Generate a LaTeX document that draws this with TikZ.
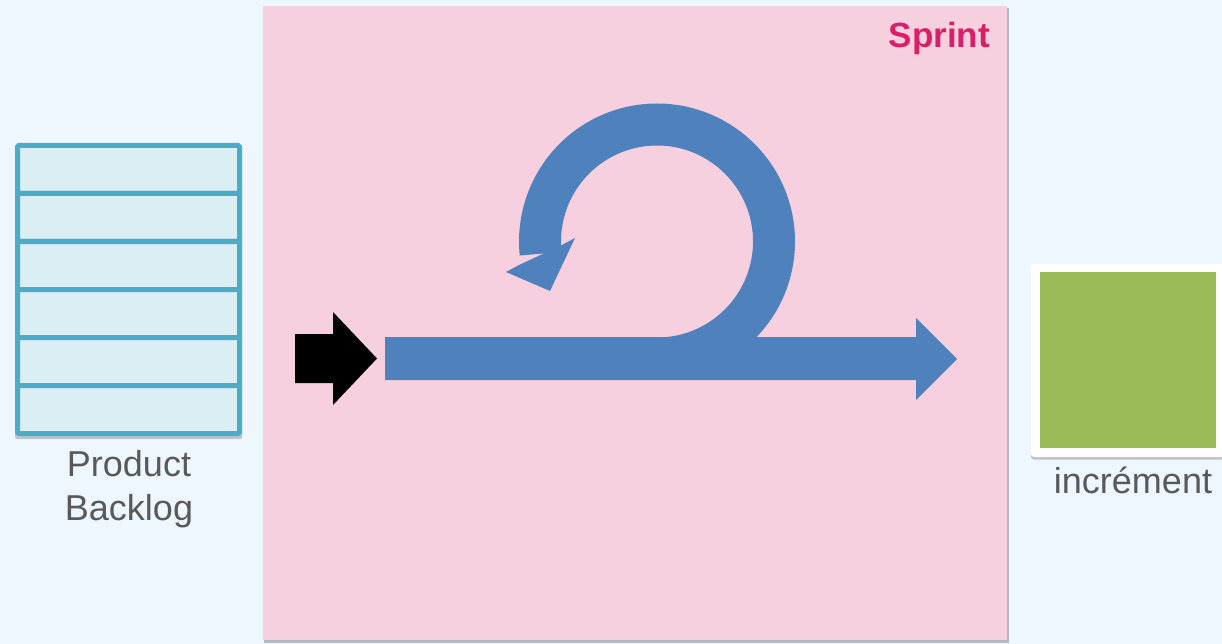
\documentclass[tikz,border=0pt]{standalone}
\usepackage{fontspec}
\setmainfont{Liberation Sans}
\usetikzlibrary{shadows}
\definecolor{bgc}{HTML}{EFF7FE}
\definecolor{pinkc}{HTML}{F7D0DF}
\definecolor{bluec}{HTML}{4F81BD}
\definecolor{sprintc}{HTML}{D81F68}
\definecolor{grayc}{HTML}{595959}
\definecolor{blstroke}{HTML}{4BACC6}
\definecolor{blfill}{HTML}{DBEEF3}
\definecolor{greenc}{HTML}{9BBB59}
\definecolor{shadowc}{HTML}{9A9FA6}
\tikzset{
  row/.style={draw=blstroke, fill=blfill, line width=5pt, rounded corners=1.5pt,
    minimum width=222pt, minimum height=48pt, inner sep=0pt, outer sep=0pt},
  lbl/.style={text=grayc, font=\fontsize{36}{44}\selectfont, align=center},
}
\begin{document}
\begin{tikzpicture}[x=1pt,y=-1pt]
  \useasboundingbox (0,0) rectangle (1222,644);
  \fill[bgc] (0,0) rectangle (1222,644);
  % Sprint area
  \fill[shadowc, opacity=0.7] (264,8) rectangle (1009,643);
  \node[fill=pinkc, minimum width=744pt, minimum height=634pt, inner sep=0pt, outer sep=0pt, anchor=north west] (sprint) at (263,6) {};
  \node[anchor=north east, text=sprintc, font=\bfseries\fontsize{35}{40}\selectfont, inner sep=0pt] (sprintlbl) at (990,22) {Sprint};
  % Product backlog stack
  \fill[shadowc, opacity=0.6, rounded corners=2pt] (15,146) rectangle (242,439);
  \foreach \i in {0,...,5} {
    \node[row] (r\i) at (128.5,{169.5+48*\i}) {};
  }
  \node[lbl, anchor=north] (pb) at (129,447) {Product\\Backlog};
  % Increment
  \node[fill=white, minimum width=193pt, minimum height=193pt, inner sep=0pt, outer sep=0pt, rounded corners=3pt, anchor=north west,
    drop shadow={shadow xshift=0pt, shadow yshift=-2.5pt, fill=shadowc, opacity=0.6}] (incframe) at (1031,264) {};
  \node[fill=greenc, minimum width=176pt, minimum height=176pt, inner sep=0pt, outer sep=0pt, anchor=north west] (inc) at (1040,272) {};
  \node[lbl, anchor=north] (inclbl) at (1133,463) {incrément};
  % Black input arrow
  \fill[black] (295,334) -- (333,334) -- (333,312) -- (377,358.5) -- (333,405) -- (333,383) -- (295,383) -- cycle;
  \coordinate (in) at (377,358.5);
  % Main blue arrow
  \fill[bluec] (385,337) -- (916,337) -- (916,318) -- (957,359) -- (916,400) -- (916,380) -- (385,380) -- cycle;
  \coordinate (out) at (957,359);
  % Loop
  \draw[bluec, line width=42pt] (657,358.5) arc[start angle=90, end angle=-186, radius=117];
  \fill[bluec] (506,272) -- (550,291) -- (575,238) -- (561,245.5) -- (520,264.5) -- cycle;
\end{tikzpicture}
\end{document}
